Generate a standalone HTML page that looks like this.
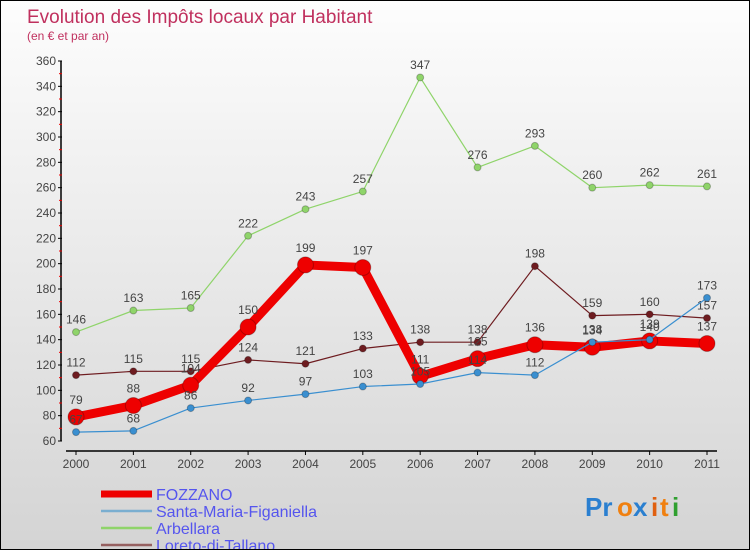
<!DOCTYPE html>
<html><head><meta charset="utf-8"><style>
body{margin:0}
#c{width:750px;height:550px;position:relative;box-sizing:border-box;border:1px solid #000;background:linear-gradient(#fdfdfd,#d4d4d4);font-family:"Liberation Sans",sans-serif;overflow:hidden}
</style></head><body>
<div id="c">
<svg id="s" width="750" height="550" style="position:absolute;left:0;top:0">
<text x="26" y="22" font-size="19" fill="#c0305e">Evolution des Impôts locaux par Habitant</text>
<text x="26" y="39" font-size="12" fill="#c0305e">(en € et par an)</text>
<g id="axes"></g><g id="series"></g><g id="legend"></g>
<g font-size="26" font-weight="bold">
<text x="584" y="515" fill="#2a7fd0">Pr</text><text x="616" y="515" fill="#f08010">o</text><text x="632" y="515" fill="#2a7fd0">x</text><text x="650" y="515" fill="#e06010">i</text><text x="659" y="515" fill="#f08010">t</text><text x="671" y="515" fill="#30a030">i</text>
</g>
</svg>
</div>
<script>
const years=["2000","2001","2002","2003","2004","2005","2006","2007","2008","2009","2010","2011"];
const fozzano=[79,88,104,150,199,197,111,125,136,134,139,137];
const santaMaria=[67,68,86,92,97,103,105,114,112,138,140,173];
const arbellara=[146,163,165,222,243,257,347,276,293,260,262,261];
const loreto=[112,115,115,124,121,133,138,138,198,159,160,157];
const yTicks=[60,80,100,120,140,160,180,200,220,240,260,280,300,320,340,360];
const NS="http://www.w3.org/2000/svg";
const X=i=>75+i*(706-75)/11;
const Y=v=>440-(v-60)*380/300;
function mk(tag,attrs,parent){const e=document.createElementNS(NS,tag);for(const k in attrs)e.setAttribute(k,attrs[k]);parent.appendChild(e);return e;}
const ax=document.getElementById('axes');
let a=mk('line',{x1:60,y1:Y(360),x2:60,y2:Y(60),stroke:'#000','stroke-width':1.5},ax);

a=mk('line',{x1:65,y1:450,x2:716,y2:450,stroke:'#000','stroke-width':1.5},ax);

yTicks.forEach((v,i)=>{
 mk('line',{x1:57,y1:Y(v),x2:61,y2:Y(v),stroke:'#000'},ax);
 if(i<yTicks.length-1) mk('line',{x1:58,y1:Y(v+10),x2:61,y2:Y(v+10),stroke:'#e00'},ax);
 const t=mk('text',{x:55,y:Y(v)+4,'font-size':12,fill:'#444','text-anchor':'end'},ax);t.textContent=v;
 
});
years.forEach((y,i)=>{
 mk('line',{x1:X(i),y1:450,x2:X(i),y2:454,stroke:'#000'},ax);
 const t=mk('text',{x:X(i),y:467,'font-size':12,fill:'#444','text-anchor':'middle'},ax);t.textContent=y;
 
});
const sg=document.getElementById('series');
function series(data,color,w,r,name){
 const g=mk('g',{},sg);
 const pl=mk('polyline',{points:data.map((v,i)=>X(i)+','+Y(v)).join(' '),fill:'none',stroke:color,'stroke-width':w,'stroke-linejoin':'round'},g);
 
 data.forEach((v,i)=>{
  const c=mk('circle',{cx:X(i),cy:Y(v),r:r,fill:color,stroke:'rgba(0,0,0,0.25)','stroke-width':1},g);
  
  const t=mk('text',{x:X(i),y:Y(v)-(r+5),'font-size':12,fill:'#444','text-anchor':'middle'},g);t.textContent=v;
  
 });
}
series(arbellara,'#8fd46a',1.2,3.5,'arbellara');
series(loreto,'#6e1c20',1.2,3.5,'loreto');
series(fozzano,'#ee0000',9,8,'fozzano');
series(santaMaria,'#3a8fd0',1.2,3.5,'santa-maria');
const lg=document.getElementById('legend');
const legNames=["FOZZANO","Santa-Maria-Figaniella","Arbellara","Loreto-di-Tallano"];
const legColors=["#ee0000","#7aaed0","#8fd46a","#956060"];
const legW=[7,2.5,2.5,2.5];
legNames.forEach((n,i)=>{
 const y=492+i*17;
 const g=mk('g',{},lg);
 mk('line',{x1:100,y1:y+1,x2:151,y2:y+1,stroke:legColors[i],'stroke-width':legW[i]},g);
 const t=mk('text',{x:155,y:y+7,'font-size':16,fill:'#5555ee'},g);t.textContent=n;
});
</script>
</body></html>
